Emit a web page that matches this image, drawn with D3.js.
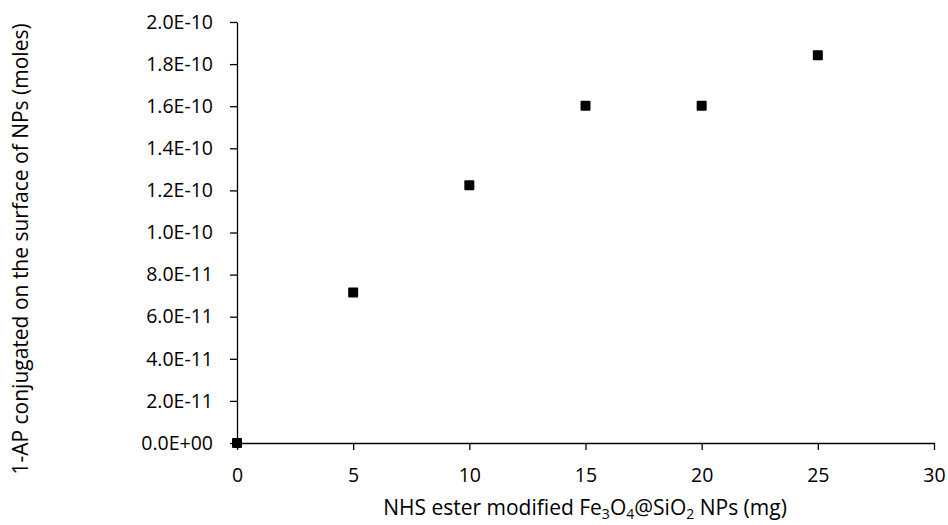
<!DOCTYPE html>
<html>
<head>
<meta charset="utf-8">
<script src="https://cdn.jsdelivr.net/npm/d3@7"></script>
<style>
  body { margin: 0; background: #fff; }
  svg text { font-family: "Open Sans", "Liberation Sans", sans-serif; fill: #000; }
</style>
</head>
<body>
<div id="chart"></div>
<script>
// NP mass (mg) vs. moles of 1-AP conjugated
var massMg = [0, 5, 10, 15, 20, 25];
var molesAP = [0, 7.15e-11, 1.225e-10, 1.602e-10, 1.602e-10, 1.842e-10];
var xTicks = [0, 5, 10, 15, 20, 25, 30];
var yTicks = [0, 2e-11, 4e-11, 6e-11, 8e-11, 1e-10, 1.2e-10, 1.4e-10, 1.6e-10, 1.8e-10, 2e-10];

var fontStack = '"Open Sans", "Liberation Sans", sans-serif';

function fmtSci(v) {
    // Excel style 0.0E+00
    var e = v === 0 ? 0 : Math.floor(Math.log10(v) + 1e-9);
    var m = v / Math.pow(10, e);
    var sign = e < 0 ? "-" : "+";
    var ee = Math.abs(e);
    return m.toFixed(1) + "E" + sign + (ee < 10 ? "0" + ee : ee);
}

function createScatter() {
    var w = 948;
    var h = 525;
    var left = 237, right = 934, top = 22, bottom = 443;

    var svg = d3.select("#chart")
        .append("svg")
        .attr("width", w)
        .attr("height", h);

    var x = d3.scaleLinear().domain([0, 30]).range([left, right]);
    var y = d3.scaleLinear().domain([0, 2e-10]).range([bottom, top]);

    var xAxis = svg.append("g")
        .attr("transform", "translate(0," + bottom + ")")
        .call(d3.axisBottom(x).tickValues(xTicks).tickSize(7).tickPadding(18).tickSizeOuter(0));
    var yAxis = svg.append("g")
        .attr("transform", "translate(" + left + ",0)")
        .call(d3.axisLeft(y).tickValues(yTicks).tickFormat(fmtSci).tickSize(7).tickPadding(17).tickSizeOuter(0));

    [xAxis, yAxis].forEach(function(g) {
        g.attr("font-size", null).attr("font-family", null);
        g.select(".domain").attr("stroke", "#000").attr("stroke-width", 1.3);
        g.selectAll(".tick line").attr("stroke", "#000").attr("stroke-width", 1.3);
        g.selectAll(".tick text").attr("fill", "#000")
            .style("font-size", "19.5px")
            .style("font-family", fontStack);
    });

    svg.selectAll("rect.pt")
        .data(massMg)
        .enter()
        .append("rect")
        .attr("class", "pt")
        .attr("x", function(d) { return x(d) - 5; })
        .attr("y", function(d, i) { return y(molesAP[i]) - 5; })
        .attr("width", 10)
        .attr("height", 10)
        .attr("rx", 1)
        .attr("fill", "#000");

    // x axis title with subscripts
    var xt = svg.append("text")
        .attr("x", 585)
        .attr("y", 515)
        .attr("text-anchor", "middle")
        .style("font-size", "21px");
    xt.append("tspan").text("NHS ester modified Fe");
    xt.append("tspan").style("font-size", "14px").attr("dy", 4).text("3");
    xt.append("tspan").attr("dy", -4).text("O");
    xt.append("tspan").style("font-size", "14px").attr("dy", 4).text("4");
    xt.append("tspan").attr("dy", -4).text("@SiO");
    xt.append("tspan").style("font-size", "14px").attr("dy", 4).text("2");
    xt.append("tspan").attr("dy", -4).text(" NPs (mg)");

    svg.append("text")
        .attr("transform", "translate(28," + 249 + ") rotate(-90)")
        .attr("text-anchor", "middle")
        .style("font-size", "21px")
        .text("1-AP conjugated on the surface of NPs (moles)");
}

createScatter();
</script>
</body>
</html>
